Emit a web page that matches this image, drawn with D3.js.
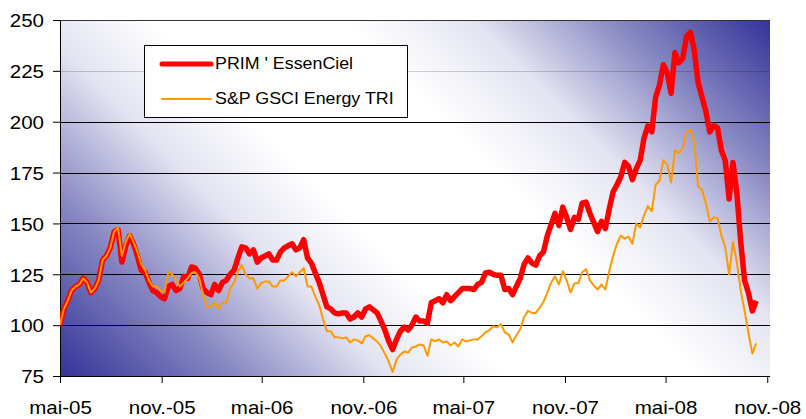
<!DOCTYPE html>
<html>
<head>
<meta charset="utf-8">
<script src="https://cdn.jsdelivr.net/npm/d3@7"></script>
<style>
  body { margin: 0; background: #fff; }
  svg { display: block; font-family: "Liberation Sans", Arial, sans-serif; }
</style>
</head>
<body>
<div id="chart"></div>
<script>
const WIDTH = 806;
const HEIGHT = 419;
const margin = { top: 20, right: 36, bottom: 43, left: 60 };

// weekly closes, first week starting 1 May 2005
const seriesStart = "2005-05-01";
const stepDays = 7;

const prim = [
  100, 108, 112, 117, 119, 120, 123, 121, 116, 118,
  122, 132, 134, 138, 146, 147, 131, 139, 144, 140,
  134, 127, 126, 121, 117, 116, 114, 113, 119, 120,
  117, 118, 124, 123, 128.6, 128, 125, 118, 116, 115,
  120, 117, 121, 122, 125, 127, 133, 138.5, 138, 135,
  137, 131, 133, 134, 135, 132, 132, 136, 138, 139,
  140, 137, 138, 142, 133, 130.5, 125.6, 121, 115, 109,
  108, 106, 105.5, 106, 106, 103, 104, 106, 104, 108,
  109, 107.5, 106, 102, 97.6, 92, 88, 93, 97, 99,
  97.6, 100, 104, 102, 102, 101, 111, 112, 113, 111,
  115, 112, 114, 116, 118, 118, 118, 117.5, 120, 121,
  125.6, 126, 125, 124.5, 124.5, 117.5, 118, 115, 119, 123,
  130, 133, 130.5, 129.5, 134, 136, 144, 149.5, 155, 149,
  158, 153, 147, 153, 152, 160, 160.5, 155, 150.5, 146,
  151, 147.5, 157, 165.5, 169, 173, 180, 178, 171.5, 177,
  181, 192, 198, 195, 212, 218, 228, 224, 214, 234,
  229, 231, 242, 244, 235, 219, 212, 205, 195, 198,
  197, 186, 181, 162, 180, 165, 141, 122, 115.8, 107,
  112
];

const gsci = [
  100, 108, 112, 117, 119, 120, 123, 121, 116, 118,
  122, 132, 134, 138, 146, 148, 134, 141, 145, 141,
  136, 130, 127, 122, 119, 119, 117, 116, 126, 125,
  122, 119, 121, 123, 125.6, 126, 123, 115, 109, 109,
  111, 108, 111, 111, 118, 121, 126, 129.5, 125, 123,
  123, 118, 120.5, 121.5, 121.5, 119, 119, 122, 122, 124,
  126, 124, 126, 128, 119, 119, 114, 110, 103, 97,
  97, 94, 94, 93.5, 94, 91.5, 93, 92.5, 91, 94.5,
  95, 93.5, 92, 89.5, 86, 82, 77, 83, 85.5, 87,
  86.5, 89, 89.5, 90.5, 90, 85, 93, 92, 93, 91.5,
  92, 90, 91.5, 89.5, 93, 92, 92.5, 93, 93, 94.5,
  96.5, 97.5, 99.5, 99, 100.5, 96.5, 95.5, 91.5, 95, 98,
  104, 107, 106, 106, 108.5, 111.5, 116, 121, 124, 120,
  126.5, 122, 116, 120.5, 120.7, 126, 127.5, 122, 119.5, 117.5,
  120, 117.5, 126.5, 134, 140, 144, 142.5, 143.5, 140, 150,
  148, 154, 158.5, 156, 169, 171, 181, 179, 170, 186,
  184.5, 187, 195, 196, 190, 168, 166.5, 160, 151, 153,
  152.5, 144, 138.4, 125, 141, 131, 117, 107, 96, 86,
  91
];

const xTickDates = ["2005-05-01", "2005-11-01", "2006-05-01", "2006-11-01",
                    "2007-05-01", "2007-11-01", "2008-05-01", "2008-11-01"];
const xTickLabels = ["mai-05", "nov.-05", "mai-06", "nov.-06",
                     "mai-07", "nov.-07", "mai-08", "nov.-08"];
const yTicks = [75, 100, 125, 150, 175, 200, 225, 250];
const seriesNames = ["PRIM ' EssenCiel", "S&P GSCI Energy TRI"];

const parse = d3.timeParse("%Y-%m-%d");
const start = parse(seriesStart);
const dates = prim.map((_, i) => d3.timeDay.offset(start, i * stepDays));

const innerW = WIDTH - margin.left - margin.right;
const innerH = HEIGHT - margin.top - margin.bottom;

const x = d3.scaleTime()
  .domain([parse("2005-05-01"), parse("2008-11-06")])
  .range([0, innerW]);
const y = d3.scaleLinear().domain([75, 250]).range([innerH, 0]);

const svg = d3.select("#chart").append("svg")
  .attr("width", WIDTH)
  .attr("height", HEIGHT);

// diagonal fill: dark bottom-left and top-right corners, white band between
const diag = (innerW + innerH) / 2;
const defs = svg.append("defs");
const grad = defs.append("linearGradient")
  .attr("id", "bg")
  .attr("gradientUnits", "userSpaceOnUse")
  .attr("x1", 0).attr("y1", innerH)
  .attr("x2", diag).attr("y2", innerH - diag);
[
  [0, "#333399"], [0.17, "#8a8ac4"], [0.31, "#e4e4f2"], [0.42, "#ffffff"],
  [0.6, "#ffffff"], [0.72, "#e4e4f2"], [0.85, "#8a8ac4"], [1, "#333399"]
].forEach(([o, c]) => grad.append("stop").attr("offset", o).attr("stop-color", c));

defs.append("clipPath").attr("id", "plot-clip")
  .append("rect").attr("width", innerW).attr("height", innerH);

const g = svg.append("g").attr("transform", `translate(${margin.left},${margin.top})`);

g.append("rect")
  .attr("width", innerW)
  .attr("height", innerH)
  .attr("fill", "url(#bg)");

// gridlines
g.append("g")
  .selectAll("line")
  .data(yTicks)
  .join("line")
  .attr("x1", 0)
  .attr("x2", innerW)
  .attr("y1", d => Math.round(y(d)) + 0.5)
  .attr("y2", d => Math.round(y(d)) + 0.5)
  .attr("stroke", d => d === 225 ? "rgba(0,0,0,0.18)" : d === 250 ? "#333" : "#000")
  .attr("stroke-width", 1);

// y axis
const yAxis = g.append("g")
  .call(d3.axisLeft(y).tickValues(yTicks).tickSize(7).tickPadding(9).tickFormat(d3.format("d")));
yAxis.select(".domain").remove();
yAxis.selectAll(".tick line").attr("stroke", "#000");
yAxis.selectAll("text").attr("font-size", 19).attr("fill", "#000").attr("dy", "0.36em").classed("stretch", true);

// x axis
const xAxis = g.append("g")
  .attr("transform", `translate(0,${innerH})`)
  .call(d3.axisBottom(x)
    .tickValues(xTickDates.map(parse))
    .tickSize(7)
    .tickPadding(18)
    .tickFormat((d, i) => xTickLabels[i]));
xAxis.select(".domain").remove();
xAxis.selectAll(".tick line").attr("stroke", "#000");
xAxis.selectAll("text").attr("font-size", 19).attr("fill", "#000").classed("stretch", true);

// left axis line
g.append("line")
  .attr("x1", 0.5).attr("x2", 0.5)
  .attr("y1", 0).attr("y2", innerH + 7)
  .attr("stroke", "#000");

const line = d3.line()
  .x((d, i) => x(dates[i]))
  .y(d => y(d));

const lines = g.append("g").attr("clip-path", "url(#plot-clip)");
lines.append("path")
  .datum(prim)
  .attr("d", line)
  .attr("fill", "none")
  .attr("stroke", "#ff0000")
  .attr("stroke-width", 5.5)
  .attr("stroke-linejoin", "round");
lines.append("path")
  .datum(gsci)
  .attr("d", line)
  .attr("fill", "none")
  .attr("stroke", "#ff9900")
  .attr("stroke-width", 2)
  .attr("stroke-linejoin", "round");

// legend
const legend = svg.append("g").attr("transform", "translate(144,45)");
legend.append("rect")
  .attr("x", 0.5).attr("y", 0.5)
  .attr("width", 263).attr("height", 72)
  .attr("fill", "#fff")
  .attr("stroke", "#000");
const legendStyles = [
  { color: "#ff0000", width: 5 },
  { color: "#ff9900", width: 2 }
];
seriesNames.forEach((name, i) => {
  const yy = 19 + i * 35;
  legend.append("line")
    .attr("x1", 18).attr("x2", 67)
    .attr("y1", yy).attr("y2", yy)
    .attr("stroke", legendStyles[i].color)
    .attr("stroke-width", legendStyles[i].width)
    .attr("stroke-linecap", "round");
  legend.append("text")
    .attr("x", 71)
    .attr("y", yy + 5)
    .attr("font-size", 16.5)
    .attr("fill", "#000")
    .text(name)
    .classed("stretch", true);
});

// excel-like wide text
svg.selectAll("text.stretch").each(function () {
  const w = this.getComputedTextLength();
  d3.select(this).attr("textLength", w * 1.08).attr("lengthAdjust", "spacingAndGlyphs");
});
</script>
</body>
</html>
